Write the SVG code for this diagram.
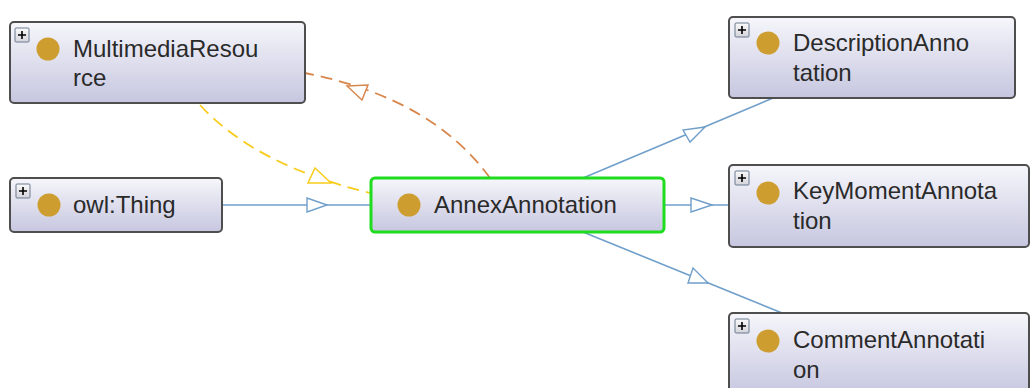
<svg xmlns="http://www.w3.org/2000/svg" width="1030" height="388" viewBox="0 0 1030 388">
<style>
.box{fill:url(#g);stroke:#4e4e4e;stroke-width:2}
.sel{fill:url(#g);stroke:#1fdc1f;stroke-width:3}
.dot{fill:#cd9d2f}
.t{font-family:"Liberation Sans",Arial,sans-serif;font-size:24px;fill:#2a2a2a}
.pb{fill:url(#pg);stroke:#6a7a90;stroke-width:1}
.pl{stroke:#000;stroke-width:1.6}
.blue{stroke:#709fca;stroke-width:1.6;fill:none}
.ah{fill:#fff;stroke:#709fca;stroke-width:1.4}
.or{stroke:#d8874c;stroke-width:1.8;fill:none;stroke-dasharray:12 7}
.ye{stroke:#f8cc1c;stroke-width:1.8;fill:none;stroke-dasharray:12 7}
.oah{fill:#fff;stroke:#d8874c;stroke-width:1.5}
.yah{fill:#fff;stroke:#f8cc1c;stroke-width:1.5}
</style>
<defs>
<linearGradient id="g" x1="0" y1="0" x2="0" y2="1">
<stop offset="0" stop-color="#f6f6fb"/>
<stop offset="1" stop-color="#c6c6e0"/>
</linearGradient>
<linearGradient id="pg" x1="0" y1="0" x2="0" y2="1">
<stop offset="0" stop-color="#fafafa"/>
<stop offset="1" stop-color="#d4d4dc"/>
</linearGradient>
</defs>
<rect width="1030" height="388" fill="#fff"/>
<g id="connectors">
<path class="blue" d="M222 205 H371"/>
<polygon class="ah" points="327,205 307,198 307,212"/>
<path class="blue" d="M664 205 H729"/>
<polygon class="ah" points="712,205 691,198 691,212"/>
<path class="blue" d="M583 178 L773 98"/>
<polygon class="ah" points="705,127 683,130 690,142"/>
<path class="blue" d="M583 232 L782 313"/>
<polygon class="ah" points="708,283 693,268 688,283"/>
<path class="or" d="M490 178 Q432 98 305 73"/>
<polygon class="oah" points="347,86 368,85 362,100"/>
<path class="ye" d="M200 105 Q255 165 370 193"/>
<polygon class="yah" points="331,183 315,168 308,183"/>
</g>
<g id="MultimediaResource">
<rect class="box" x="10" y="22" width="295" height="81" rx="4"/>
<rect class="pb" x="15" y="28" width="14" height="14" rx="1"/>
<path class="pl" d="M18 35 H26 M22 31 V39"/>
<circle class="dot" cx="48" cy="49" r="11.5"/>
<text class="t" x="73" y="57">MultimediaResou</text>
<text class="t" x="73" y="86">rce</text>
</g>
<g id="owlThing">
<rect class="box" x="10" y="178" width="212" height="54" rx="4"/>
<rect class="pb" x="16" y="184" width="14" height="14" rx="1"/>
<path class="pl" d="M19 191 H27 M23 187 V195"/>
<circle class="dot" cx="49" cy="205" r="11.5"/>
<text class="t" x="73" y="213">owl:Thing</text>
</g>
<g id="AnnexAnnotation">
<rect class="sel" x="371" y="178" width="293" height="54" rx="4"/>
<circle class="dot" cx="409" cy="205" r="11.5"/>
<text class="t" x="434" y="213">AnnexAnnotation</text>
</g>
<g id="DescriptionAnnotation">
<rect class="box" x="729" y="17" width="286" height="81" rx="4"/>
<rect class="pb" x="735" y="23" width="14" height="14" rx="1"/>
<path class="pl" d="M738 30 H746 M742 26 V34"/>
<circle class="dot" cx="768" cy="43" r="11.5"/>
<text class="t" x="793" y="51">DescriptionAnno</text>
<text class="t" x="793" y="81">tation</text>
</g>
<g id="KeyMomentAnnotation">
<rect class="box" x="729" y="165" width="300" height="82" rx="4"/>
<rect class="pb" x="735" y="171" width="14" height="14" rx="1"/>
<path class="pl" d="M738 178 H746 M742 174 V182"/>
<circle class="dot" cx="768" cy="193" r="11.5"/>
<text class="t" x="793" y="199">KeyMomentAnnota</text>
<text class="t" x="793" y="229">tion</text>
</g>
<g id="CommentAnnotation">
<rect class="box" x="729" y="313" width="300" height="82" rx="4"/>
<rect class="pb" x="735" y="319" width="14" height="14" rx="1"/>
<path class="pl" d="M738 326 H746 M742 322 V330"/>
<circle class="dot" cx="768" cy="341" r="11.5"/>
<text class="t" x="793" y="348">CommentAnnotati</text>
<text class="t" x="793" y="378">on</text>
</g>
</svg>
